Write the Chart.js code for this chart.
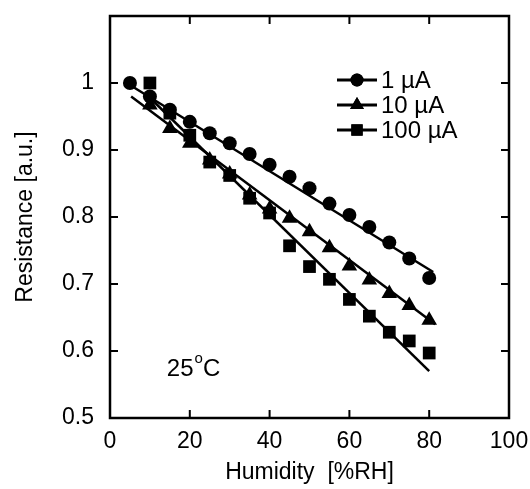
<!DOCTYPE html>
<html>
<head>
<meta charset="utf-8">
<script src="https://cdn.jsdelivr.net/npm/chart.js@4.4.1/dist/chart.umd.min.js"></script>
<style>
  html, body { margin: 0; padding: 0; background: #fff; }
  #wrap { width: 530px; height: 489px; }
</style>
</head>
<body>
<div id="wrap"><canvas id="chart_resistance" width="530" height="489"></canvas></div>
<script>
// measured points, resistance normalised [a.u.] vs humidity [%RH]
const hum1uA = [5, 10, 15, 20, 25, 30, 35, 40, 45, 50, 55, 60, 65, 70, 75, 80];
const res1uA = [1.0, 0.98, 0.96, 0.942, 0.925, 0.91, 0.894, 0.878, 0.86, 0.843, 0.82, 0.803, 0.785, 0.762, 0.738, 0.709];

const hum10uA = [10, 15, 20, 25, 30, 35, 40, 45, 50, 55, 60, 65, 70, 75, 80];
const res10uA = [0.967, 0.932, 0.91, 0.885, 0.864, 0.833, 0.812, 0.798, 0.778, 0.754, 0.727, 0.706, 0.686, 0.668, 0.646];

const hum100uA = [10, 15, 20, 25, 30, 35, 40, 45, 50, 55, 60, 65, 70, 75, 80];
const res100uA = [1.0, 0.955, 0.922, 0.882, 0.862, 0.828, 0.806, 0.757, 0.726, 0.707, 0.677, 0.652, 0.628, 0.615, 0.597];

// straight fit lines (end points)
const fit1uA_x = [5, 81], fit1uA_y = [0.997, 0.718];
const fit10uA_x = [5.3, 81.5], fit10uA_y = [0.98, 0.64];
const fit100uA_x = [10, 80], fit100uA_y = [0.978, 0.57];

const seriesLabels = ['1 \u00b5A', '10 \u00b5A', '100 \u00b5A'];
const xTicks = [0, 20, 40, 60, 80, 100];
const yTicks = [0.5, 0.6, 0.7, 0.8, 0.9, 1.0];

function pts(xs, ys) {
  return xs.map((x, i) => ({ x: x, y: ys[i] }));
}

const FONT = "'Liberation Sans', Arial, sans-serif";

function markerSet(label, xs, ys, style, radius) {
  return {
    label: label,
    data: pts(xs, ys),
    showLine: false,
    pointStyle: style,
    pointRadius: radius,
    pointHoverRadius: radius,
    backgroundColor: '#000',
    borderColor: '#000',
    borderWidth: 0
  };
}
function fitSet(xs, ys) {
  return {
    label: '',
    data: pts(xs, ys),
    showLine: true,
    pointRadius: 0,
    borderColor: '#000',
    borderWidth: 2.5,
    fill: false
  };
}

var chart_resistance = new Chart(document.getElementById('chart_resistance'), {
  type: 'scatter',
  data: {
    datasets: [
      fitSet(fit1uA_x, fit1uA_y),
      fitSet(fit10uA_x, fit10uA_y),
      fitSet(fit100uA_x, fit100uA_y),
      markerSet(seriesLabels[0], hum1uA, res1uA, 'circle', 7),
      markerSet(seriesLabels[1], hum10uA, res10uA, 'triangle', 9),
      markerSet(seriesLabels[2], hum100uA, res100uA, 'rect', 9)
    ]
  },
  options: {
    animation: false,
    responsive: false,
    layout: { padding: { left: 0, top: 16, right: 21, bottom: 0 } },
    plugins: {
      legend: { display: false },
      tooltip: { enabled: false },
      title: { display: false }
    },
    scales: {
      x: {
        type: 'linear',
        min: 0,
        max: 100,
        afterFit: function(scale) {
          scale.height = 71;
          scale.paddingLeft = 0;
          scale.paddingRight = 0;
        },
        afterBuildTicks: function(scale) { scale.ticks = xTicks.map(v => ({ value: v })); },
        grid: { display: false },
        border: { display: false },
        ticks: {
          color: '#000',
          padding: 2,
          maxRotation: 0,
          font: { family: FONT, size: 23 },
          callback: function(value) { return String(value); }
        },
        title: {
          display: true,
          text: 'Humidity  [%RH]',
          color: '#000',
          font: { family: FONT, size: 23 },
          padding: { top: 0, bottom: 3 }
        }
      },
      y: {
        type: 'linear',
        min: 0.5,
        max: 1.1,
        afterFit: function(scale) {
          scale.width = 110;
          scale.paddingTop = 0;
          scale.paddingBottom = 0;
        },
        afterBuildTicks: function(scale) { scale.ticks = yTicks.map(v => ({ value: v })); },
        grid: { display: false },
        border: { display: false },
        ticks: {
          color: '#000',
          padding: 8,
          font: { family: FONT, size: 23 },
          callback: function(value) {
            return Math.abs(value - 1) < 1e-6 ? '1' : value.toFixed(1);
          }
        },
        title: {
          display: true,
          text: 'Resistance [a.u.]',
          color: '#000',
          font: { family: FONT, size: 23 },
          padding: { top: 12, bottom: 0 }
        }
      }
    }
  },
  plugins: [{
    id: 'frameAndLegend',
    beforeDraw: (chart) => {
      const ctx = chart.ctx;
      ctx.save();
      ctx.fillStyle = 'white';
      ctx.fillRect(0, 0, chart.width, chart.height);
      ctx.restore();
    },
    afterDraw: (chart) => {
      const ctx = chart.ctx;
      const a = chart.chartArea;
      const sx = chart.scales.x, sy = chart.scales.y;
      ctx.save();
      ctx.strokeStyle = '#000';
      ctx.lineWidth = 2.5;
      ctx.strokeRect(a.left, a.top, a.right - a.left, a.bottom - a.top);

      // inward ticks on all sides
      ctx.lineWidth = 2;
      const tl = 8;
      ctx.beginPath();
      xTicks.forEach(v => {
        const px = sx.getPixelForValue(v);
        ctx.moveTo(px, a.bottom); ctx.lineTo(px, a.bottom - tl);
        ctx.moveTo(px, a.top); ctx.lineTo(px, a.top + tl);
      });
      yTicks.forEach(v => {
        const py = sy.getPixelForValue(v);
        ctx.moveTo(a.left, py); ctx.lineTo(a.left + tl, py);
        ctx.moveTo(a.right, py); ctx.lineTo(a.right - tl, py);
      });
      ctx.stroke();

      // legend: line + marker + text
      const styles = ['circle', 'triangle', 'rect'];
      const radii = [6.5, 8, 8];
      const rowY = [80, 105, 130];
      ctx.fillStyle = '#000';
      ctx.font = '24px ' + FONT;
      ctx.textBaseline = 'middle';
      ctx.textAlign = 'left';
      styles.forEach((st, i) => {
        ctx.lineWidth = 3;
        ctx.beginPath();
        ctx.moveTo(337, rowY[i]); ctx.lineTo(377, rowY[i]);
        ctx.stroke();
        Chart.helpers.drawPoint(ctx, { pointStyle: st, radius: radii[i], borderWidth: 0 }, 357, rowY[i]);
        ctx.fill();
        ctx.fillText(seriesLabels[i], 381, rowY[i] + 1);
      });

      // temperature note
      const tx = sx.getPixelForValue(14.25);
      const ty = sy.getPixelForValue(0.562);
      ctx.textBaseline = 'alphabetic';
      ctx.font = '24px ' + FONT;
      ctx.fillText('25', tx, ty);
      const w25 = ctx.measureText('25').width;
      ctx.font = '15px ' + FONT;
      ctx.fillText('o', tx + w25 + 1, ty - 13);
      const wo = ctx.measureText('o').width;
      ctx.font = '24px ' + FONT;
      ctx.fillText('C', tx + w25 + wo + 1, ty);
      ctx.restore();
    }
  }]
});
</script>
</body>
</html>
